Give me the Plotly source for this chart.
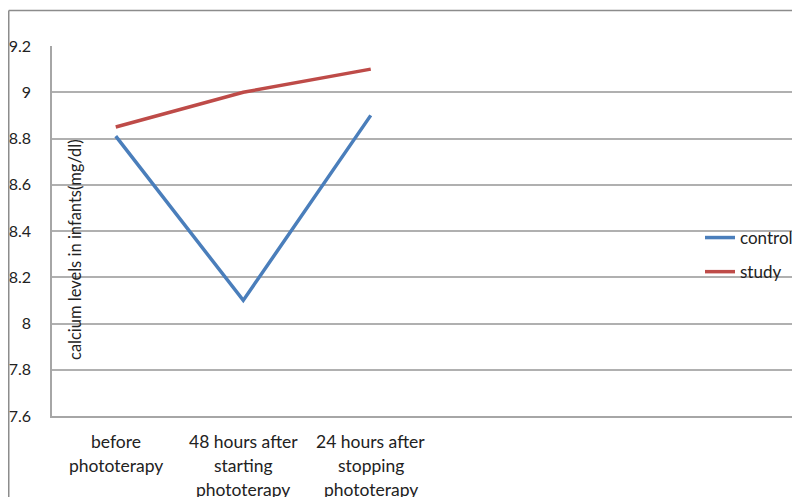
import plotly.graph_objects as go

categories = ["before phototerapy", "48 hours after starting phototerapy", "24 hours after stopping phototerapy"]
category_lines = [["before", "phototerapy"], ["48 hours after", "starting", "phototerapy"], ["24 hours after", "stopping", "phototerapy"]]
control = [8.81, 8.10, 8.90]
study = [8.85, 9.00, 9.10]
y_ticks = [7.6, 7.8, 8.0, 8.2, 8.4, 8.6, 8.8, 9.0, 9.2]
y_ticktext = ["7.6", "7.8", "8", "8.2", "8.4", "8.6", "8.8", "9", "9.2"]
y_title = "calcium levels in infants(mg/dl)"

OFF = 8  # page body margin
W, H = 800, 497
L, T = 52 - OFF, 46 - OFF
PB = 416 - OFF  # plot bottom in figure px
R = 0
B = H - PB
PW = W - L - R
PH = PB - T
FONT = "Lato"
FS = 16

fig = go.Figure()
fig.add_trace(go.Scatter(x=categories, y=control, mode="lines", name="control",
                         line=dict(color="#4a7ebb", width=3.5), legendgroup="a"))
fig.add_trace(go.Scatter(x=categories, y=study, mode="lines", name="study",
                         line=dict(color="#be4b48", width=3.5), legendgroup="b"))

def px_x(px):  # reference px -> paper
    return (px - OFF - L) / PW

def px_y(py):
    return (PB - (py - OFF)) / PH

annotations = []
for cat, lines in zip(categories, category_lines):
    for i, ln in enumerate(lines):
        annotations.append(dict(x=cat, xref="x", y=0, yref="paper", text=ln, showarrow=False,
                                xanchor="center", yanchor="middle", yshift=-25 - 24 * i,
                                font=dict(family=FONT, size=17.5, color="#222")))
annotations.append(dict(x=px_x(75), xref="paper", y=px_y(250), yref="paper", text=y_title,
                        textangle=-90, showarrow=False, xanchor="center", yanchor="middle",
                        font=dict(family=FONT, size=16.5, color="#222")))

fig.update_layout(
    width=W, height=H,
    margin=dict(l=L, r=R, t=T, b=B),
    paper_bgcolor="white", plot_bgcolor="white",
    font=dict(family=FONT, size=FS, color="#222"),
    showlegend=True,
    legend=dict(x=px_x(700), y=px_y(220), xanchor="left", yanchor="top",
                bgcolor="rgba(0,0,0,0)", tracegroupgap=9, traceorder="grouped",
                font=dict(family=FONT, size=17, color="#222")),
    xaxis=dict(type="category", range=[-0.5, -0.5 + PW / 127.5], showticklabels=False, showgrid=False,
               showline=True, linecolor="#a6a6a6", linewidth=1.5, ticks="", zeroline=False),
    yaxis=dict(range=[7.6, 9.2], tickvals=y_ticks, ticktext=y_ticktext, showgrid=True,
               gridcolor="#b0b0b0", gridwidth=1.5, showline=True, linecolor="#a6a6a6",
               linewidth=1.5, ticks="", ticklabelstandoff=16, zeroline=False,
               tickfont=dict(family=FONT, size=FS, color="#222")),
    annotations=annotations,
    shapes=[
        dict(type="line", xref="paper", yref="paper", x0=px_x(8.75), x1=px_x(830), y0=px_y(10.5), y1=px_y(10.5),
             line=dict(color="#8c8c8c", width=1.5)),
        dict(type="line", xref="paper", yref="paper", x0=px_x(8.75), x1=px_x(8.75), y0=px_y(10.5), y1=px_y(540),
             line=dict(color="#8c8c8c", width=1.5)),
    ],
)

fig.write_html("out.html")
